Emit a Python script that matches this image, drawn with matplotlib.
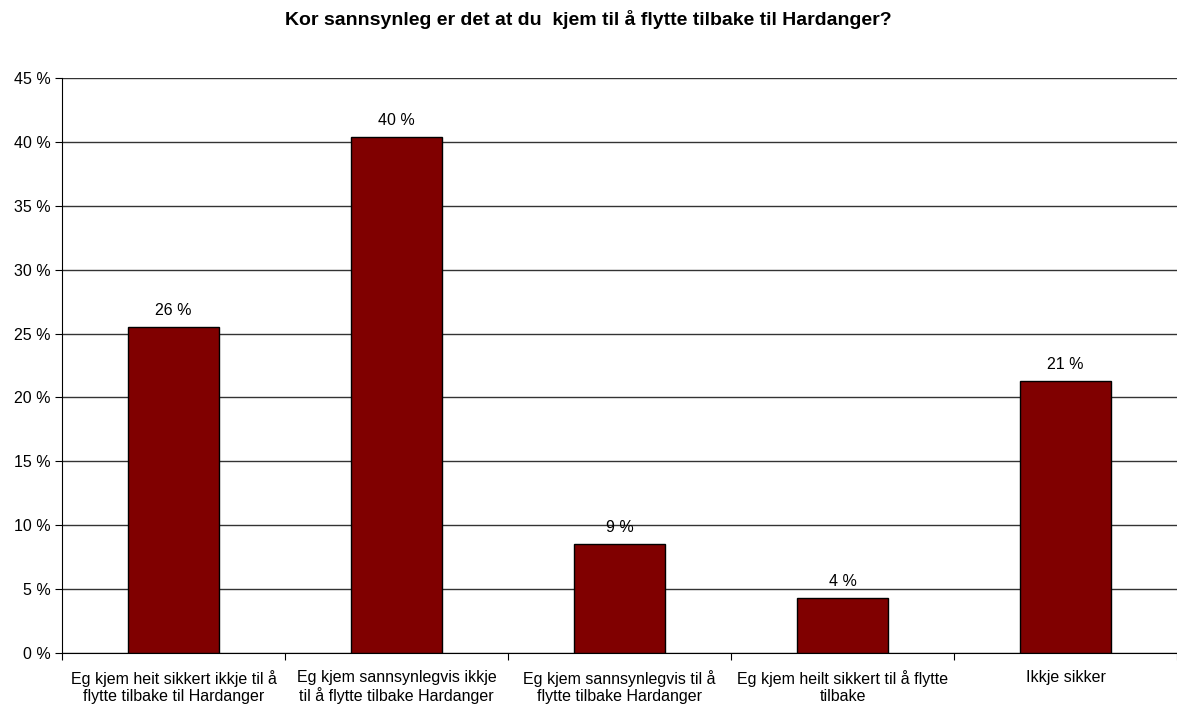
import numpy as np
import matplotlib.pyplot as plt

plt.rcParams['font.family'] = ['Liberation Sans', 'DejaVu Sans']

categories = [
    "Eg kjem heit sikkert ikkje til å\nflytte tilbake til Hardanger",
    "Eg kjem sannsynlegvis ikkje\ntil å flytte tilbake Hardanger",
    "Eg kjem sannsynlegvis til å\nflytte tilbake Hardanger",
    "Eg kjem heilt sikkert til å flytte\ntilbake",
    "Ikkje sikker",
]
values = [25.5, 40.4, 8.5, 4.3, 21.3]
labels = ["26 %", "40 %", "9 %", "4 %", "21 %"]

fig = plt.figure(figsize=(11.77, 7.06), dpi=100)
ax = fig.add_axes([0.0527, 0.0751, 0.9473, 0.8144])

x = np.arange(len(categories))
ax.bar(x, values, width=0.41, color='#800000', edgecolor='black', linewidth=1, zorder=3)
for xi, v, lab in zip(x, values, labels):
    ax.text(xi, v + 0.7, lab, ha='center', va='bottom', fontsize=11.5, zorder=4)

ax.set_xlim(-0.5, len(categories) - 0.5)
ax.set_ylim(0, 45)
ax.set_yticks(np.arange(0, 46, 5))
ax.set_yticklabels([f"{t} %" for t in range(0, 46, 5)], fontsize=11.5)
ax.yaxis.grid(True, color='#333333', linewidth=1, zorder=0)

ax.set_xticks(np.arange(len(categories) + 1) - 0.5, minor=False)
ax.set_xticklabels([])
ax.set_xticks(x, minor=True)
ax.set_xticklabels(categories, minor=True, fontsize=11.5, linespacing=1.2)
ax.tick_params(axis='x', which='minor', length=0, pad=12)
ax.tick_params(axis='x', which='major', length=5, direction='out')
ax.tick_params(axis='y', length=5, direction='out', pad=3)

ax.spines['top'].set_visible(False)
ax.spines['right'].set_visible(False)

fig.suptitle("Kor sannsynleg er det at du  kjem til å flytte tilbake til Hardanger?",
             y=0.972, va='center', fontsize=14, fontweight='bold')

fig.savefig("out.png", dpi=100)
